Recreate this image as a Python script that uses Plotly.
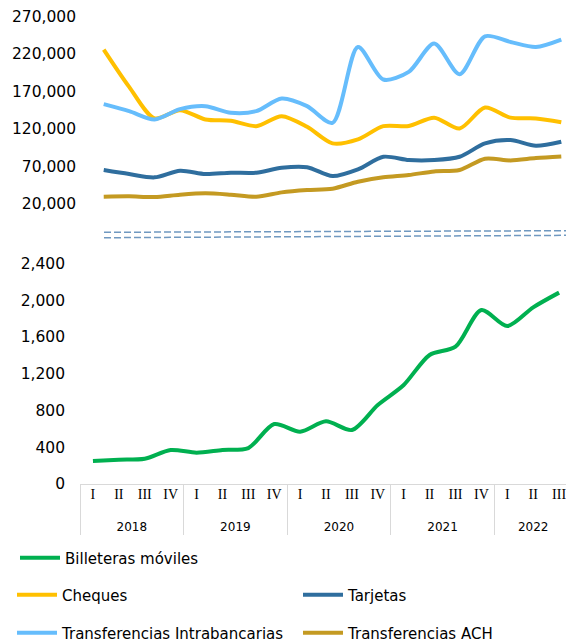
import plotly.graph_objects as go

years = ["2018"] * 4 + ["2019"] * 4 + ["2020"] * 4 + ["2021"] * 4 + ["2022"] * 3
quarters = ["I", "II", "III", "IV"] * 4 + ["I", "II", "III"]

billeteras = [250, 264, 275, 370, 341, 370, 391, 652, 569, 682, 587, 859, 1077, 1403, 1493, 1892, 1718, 1921, 2081]
cheques = [225700, 176000, 134000, 145000, 132600, 130800, 123700, 137000, 122800, 100700, 106000, 123700, 123900, 135000, 120600, 148500, 135000, 134000, 129000]
tarjetas = [65200, 59900, 55500, 64300, 59900, 61700, 61700, 68300, 69000, 57200, 66100, 82900, 78500, 78500, 82900, 100700, 105100, 97600, 102900]
intrabancarias = [153000, 143700, 132600, 146300, 150300, 141500, 143700, 160500, 150300, 128100, 229200, 185800, 196000, 233700, 192900, 243400, 235900, 229200, 239000]
ach = [29750, 30200, 29300, 32400, 34200, 32400, 29750, 35500, 38600, 40400, 49700, 55500, 58600, 63400, 65200, 80300, 78100, 81200, 83400]

colors = {
    "Billeteras móviles": "#00b050",
    "Cheques": "#ffc000",
    "Tarjetas": "#2f6e9e",
    "Transferencias Intrabancarias": "#66bdfc",
    "Transferencias ACH": "#c49a22",
}

W, H = 566, 635  # page body has an 8px margin inside the 574x643 window


def serif(s):
    return (f"<span style='font-family:Liberation Serif;font-size:14px'>{s}</span>"
            "<br><span style='font-size:7px'>&nbsp;</span>")


xcat = [years, [serif(q) for q in quarters]]

fig = go.Figure()
line_kw = dict(mode="lines", line_shape="spline", hoverinfo="skip")

fig.add_trace(go.Scatter(x=xcat, y=billeteras, name="Billeteras móviles",
                         line=dict(color=colors["Billeteras móviles"], width=4, smoothing=0.8),
                         xaxis="x", yaxis="y", legend="legend", **line_kw))
top = [("Cheques", cheques, "legend2"), ("Tarjetas", tarjetas, "legend3"),
       ("Transferencias Intrabancarias", intrabancarias, "legend4"),
       ("Transferencias ACH", ach, "legend5")]
for name, vals, lg in top:
    fig.add_trace(go.Scatter(x=xcat, y=vals, name=name,
                             line=dict(color=colors[name], width=4, smoothing=0.8),
                             xaxis="x2", yaxis="y2", legend=lg, **line_kw))

font_axis = dict(family="DejaVu Sans", size=15.5, color="#000000")
legend_common = dict(orientation="h", xanchor="left", yanchor="middle",
                     font=dict(family="DejaVu Sans", size=15, color="#000000"),
                     bgcolor="rgba(0,0,0,0)", itemwidth=40,
                     xref="container", yref="container")


def leg(xpx, ypx):
    return dict(x=xpx / W, y=1 - ypx / H, **legend_common)


fig.update_layout(
    width=W, height=H,
    margin=dict(l=72, r=0, t=0, b=159, autoexpand=False),
    paper_bgcolor="white", plot_bgcolor="white",
    font=dict(family="DejaVu Sans", color="#000000"),
    xaxis=dict(type="multicategory", domain=[0, 0.996], range=[-0.5, 18.5],
               showline=True, linecolor="#d9d9d9", linewidth=1,
               showdividers=True, dividercolor="#d9d9d9", dividerwidth=1,
               showgrid=False, ticks="", tickfont=dict(family="DejaVu Sans", size=12, color="#000000"),
               anchor="y", automargin=False),
    yaxis=dict(domain=[0, 0.483], range=[0, 2500], tick0=0, dtick=400, tickformat=",d",
               showgrid=False, zeroline=False, showline=False, ticks="", tickfont=font_axis,
               ticklabelstandoff=14, anchor="x", automargin=False, ticklabeloverflow="allow"),
    xaxis2=dict(type="multicategory", domain=[0.0223, 1.0], range=[-0.5, 18.5], visible=False,
                anchor="y2", showdividers=False),
    yaxis2=dict(domain=[0.5567, 0.9983], range=[0, 280000], tick0=20000, dtick=50000, tickformat=",d",
                showgrid=False, zeroline=False, showline=False, ticks="", tickfont=font_axis,
                ticklabelstandoff=14, anchor="x2", position=0, automargin=False,
                ticklabeloverflow="allow"),
    legend=leg(7, 550),
    legend2=leg(4, 587),
    legend3=leg(290, 587),
    legend4=leg(4, 625),
    legend5=leg(290, 625),
    showlegend=True,
)

# axis-break marks between the two panels
dash_color = "#6f98c0"
for y0, y1 in [(0.5288, 0.5322), (0.5174, 0.5225)]:
    fig.add_shape(type="line", xref="paper", yref="paper", x0=0.0486, x1=1.0, y0=y0, y1=y1,
                  line=dict(color=dash_color, width=1.5, dash="7px,3px"))

fig.write_html("out.html")
